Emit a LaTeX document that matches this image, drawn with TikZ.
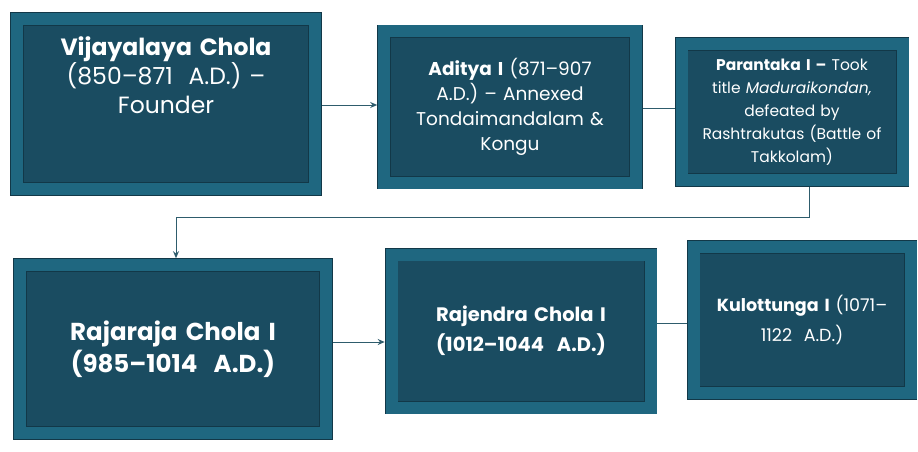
\documentclass[tikz,border=0pt]{standalone}
\usepackage{fontspec}
\setmainfont{Poppins}
\usepackage{xcolor}
\usetikzlibrary{arrows.meta}
\usetikzlibrary{shadows}

\definecolor{face}{HTML}{1A4C61}
\definecolor{bevel}{HTML}{1F6780}
\definecolor{rim}{HTML}{123848}
\definecolor{wire}{HTML}{2E5C6C}

\begin{document}
\begin{tikzpicture}[x=1pt,y=-1pt]
      \tikzstyle{era}=[rectangle,fill=face,draw=rim,line width=0.8pt,double=bevel,double distance=12pt,outer sep=6.8pt,
        text=white,align=center,inner sep=4pt,drop shadow={shadow xshift=-2pt,shadow yshift=-3pt,opacity=0.35}]
      \tikzstyle{link}=[draw=wire,line width=1pt,-{Stealth[length=7pt,width=6pt]}]
      \tikzstyle{plain}=[draw=wire,line width=1pt]
      \useasboundingbox (0,0) rectangle (918,452);
      \node[era,minimum width=298pt,minimum height=170pt,text width=280pt,font=\fontsize{23.5}{29}\selectfont] (vija) at (166,104)
        {\textbf{Vijayalaya Chola}\\(850–871\ \ A.D.) –\\Founder\\~\\~};
      \node[era,minimum width=252pt,minimum height=151pt,text width=236pt,font=\fontsize{18.5}{25}\selectfont] (adit) at (510,107)
        {\textbf{Aditya I} (871–907\\A.D.) – Annexed\\Tondaimandalam \&\\Kongu};
      \node[era,minimum width=221pt,minimum height=136pt,text width=210pt,font=\fontsize{15.5}{23}\selectfont] (para) at (792,112)
        {\textbf{Parantaka I –} Took\\title \textit{Maduraikondan,}\\defeated by\\Rashtrakutas (Battle of\\Takkolam)};
      \node[era,minimum width=306pt,minimum height=168pt,text width=290pt,font=\fontsize{24.5}{32}\selectfont] (raja) at (173,349)
        {\textbf{Rajaraja Chola I}\\\textbf{(985–1014\ \ A.D.)}};
      \node[era,minimum width=259pt,minimum height=153pt,text width=245pt,font=\fontsize{19.5}{30}\selectfont] (rajen) at (521,331)
        {\textbf{Rajendra Chola I}\\\textbf{(1012–1044\ \ A.D.)}};
      \node[era,minimum width=217pt,minimum height=146pt,text width=205pt,font=\fontsize{17.5}{30}\selectfont] (kulo) at (802,320)
        {\textbf{Kulottunga I} (1071–\\1122\ \ A.D.)};
      \coordinate (turn) at (176,217);
      \draw[link] (vija.east |- 0,105) -- (adit.west |- 0,105);
      \draw[plain] (adit.east |- 0,108) -- (para.west |- 0,108);
      \draw[link] (para.south -| 809,0) |- (turn) -- (raja.north -| turn);
      \draw[link] (raja.east |- 0,342) -- (rajen.west |- 0,342);
      \draw[plain] (rajen.east |- 0,323) -- (kulo.west |- 0,323);
    \end{tikzpicture}
\end{document}
